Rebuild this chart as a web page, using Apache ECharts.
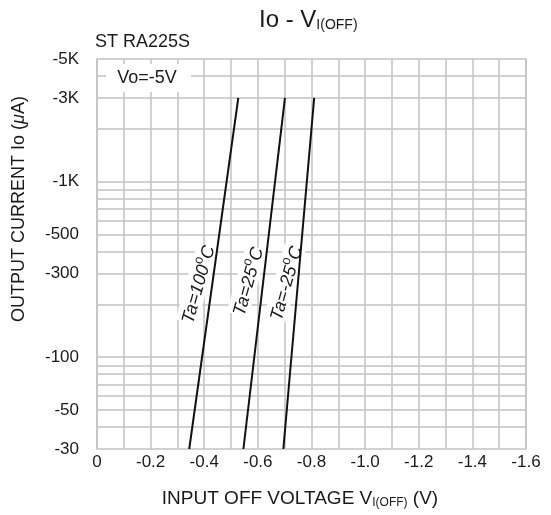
<!DOCTYPE html>
<html><head><meta charset="utf-8">
<script src="https://cdn.jsdelivr.net/npm/echarts@6/dist/echarts.min.js"></script>
<style>html,body{margin:0;padding:0;background:#fff}#c{width:551px;height:515px}</style>
</head><body><div id="c"></div>
<script>
const FONT = '"Liberation Sans", Arial, Helvetica, sans-serif';
const TXT = '#1a1a1a';
const GRID = '#c2c2c2';

// Output current levels (µA) at the two ends of each drawn line
const currentEnds = [-30, -3000];
// Input OFF voltage (V) where each curve reaches those currents
const vTa100 = [-0.344, -0.527];
const vTa25 = [-0.546, -0.701];
const vTaM25 = [-0.695, -0.810];
const curveNames = ['Ta=100°C', 'Ta=25°C', 'Ta=-25°C'];

// axis ticks
const yTickLabels = [-30, -50, -100, -300, -500, -1000, -3000, -5000];
const yGridLines = [-40, -50, -60, -70, -80, -90, -100, -200, -300, -400, -500, -600, -700, -800, -900, -1000, -2000, -3000, -4000];
const xMin = -1.6, xMax = 0, xLabelStep = 0.2;

function pts(vs) { return vs.map((v, i) => [v, Math.abs(currentEnds[i])]); }

const chart = echarts.init(document.getElementById('c'), null, {renderer: 'canvas'});

const curveSeries = [vTa100, vTa25, vTaM25].map((vs, k) => ({
  name: curveNames[k], type: 'line', data: pts(vs), z: 3,
  showSymbol: false, symbol: 'none', silent: true,
  lineStyle: {color: '#111', width: 2}
}));

const gridSeries = {
  type: 'line', data: [], z: 1, silent: true,
  markLine: {
    z: 1, silent: true, symbol: 'none', animation: false,
    label: {show: false},
    lineStyle: {color: GRID, width: 1.5, type: 'solid'},
    emphasis: {disabled: true},
    data: yGridLines.map(v => ({yAxis: Math.abs(v)}))
  }
};

function lbl(x, y, text, rot) {
  return {
    type: 'text', x: x, y: y, rotation: rot * Math.PI / 180, z: 2, silent: true,
    style: {
      text: text, align: 'center', verticalAlign: 'middle',
      backgroundColor: '#fff',
      rich: {
        m: {fontSize: 18, fontStyle: 'italic', fontFamily: FONT, fill: TXT, color: TXT, lineHeight: 22, verticalAlign: 'bottom'},
        o: {fontSize: 13, fontFamily: FONT, fill: TXT, color: TXT, lineHeight: 13, verticalAlign: 'top'}
      }
    }
  };
}

const option = {
  animation: false,
  backgroundColor: '#fff',
  grid: {left: 97, right: 25, top: 59, bottom: 66, show: true, borderColor: GRID, borderWidth: 1.5, containLabel: false, outerBoundsMode: 'none'},
  xAxis: {
    type: 'value', inverse: true, min: xMin, max: xMax, interval: xLabelStep,
    axisLine: {show: false}, axisTick: {show: false},
    splitLine: {show: true, lineStyle: {color: GRID, width: 1.5}},
    minorTick: {show: false, splitNumber: 2},
    minorSplitLine: {show: true, lineStyle: {color: GRID, width: 1.5}},
    axisLabel: {
      fontSize: 17, fontFamily: FONT, color: TXT, margin: 5,
      formatter: v => Math.abs(v) < 1e-9 ? '0' : v.toFixed(1)
    }
  },
  yAxis: {
    type: 'log', logBase: 10, min: 30, max: 5000,
    axisLine: {show: false}, axisTick: {show: false},
    splitLine: {show: false},
    axisLabel: {
      customValues: yTickLabels.map(Math.abs),
      fontSize: 17, fontFamily: FONT, color: TXT, margin: 18,
      formatter: v => { const r = Math.round(v); return r >= 1000 ? '-' + (r / 1000) + 'K' : '-' + r; }
    }
  },
  series: [gridSeries].concat(curveSeries),
  graphic: {elements: [
    {type: 'text', x: 259, y: 20, silent: true, style: {
      text: 'Io - V{s|I(OFF)}', fontSize: 24, fontFamily: FONT, fill: TXT, align: 'left', verticalAlign: 'middle',
      rich: {s: {fontSize: 14, fontFamily: FONT, fill: TXT, lineHeight: 14, verticalAlign: 'bottom'}}
    }},
    {type: 'text', x: 95, y: 42, silent: true, style: {
      text: 'ST RA225S', fontSize: 18, fontFamily: FONT, fill: TXT, align: 'left', verticalAlign: 'middle'
    }},
    {type: 'rect', z: 2, silent: true, shape: {x: 106, y: 64, width: 85, height: 28}, style: {fill: '#fff'}},
    {type: 'text', z: 2, x: 147, y: 78, silent: true, style: {
      text: 'Vo=-5V', fontSize: 18, fontFamily: FONT, fill: TXT, align: 'center', verticalAlign: 'middle'
    }},
    {type: 'text', x: 19, y: 209, rotation: Math.PI / 2, silent: true, style: {
      text: 'OUTPUT CURRENT Io ({i|μ}A)', fontSize: 18, fontFamily: FONT, fill: TXT, align: 'center', verticalAlign: 'middle',
      rich: {i: {fontSize: 18, fontStyle: 'italic', fontFamily: FONT, fill: TXT}}
    }},
    {type: 'text', x: 300, y: 499, silent: true, style: {
      text: 'INPUT OFF VOLTAGE V{s|I(OFF)} (V)', fontSize: 19, fontFamily: FONT, fill: TXT, align: 'center', verticalAlign: 'middle',
      rich: {s: {fontSize: 12, fontFamily: FONT, fill: TXT, lineHeight: 12, verticalAlign: 'bottom'}}
    }},
    lbl(197, 284, '{m|Ta=100}{o|o}{m|C}', 74),
    lbl(247, 281, '{m|Ta=25}{o|o}{m|C}', 74),
    lbl(285, 283, '{m|Ta=-25}{o|o}{m|C}', 74)
  ]}
};
chart.setOption(option);
</script>
</body></html>
